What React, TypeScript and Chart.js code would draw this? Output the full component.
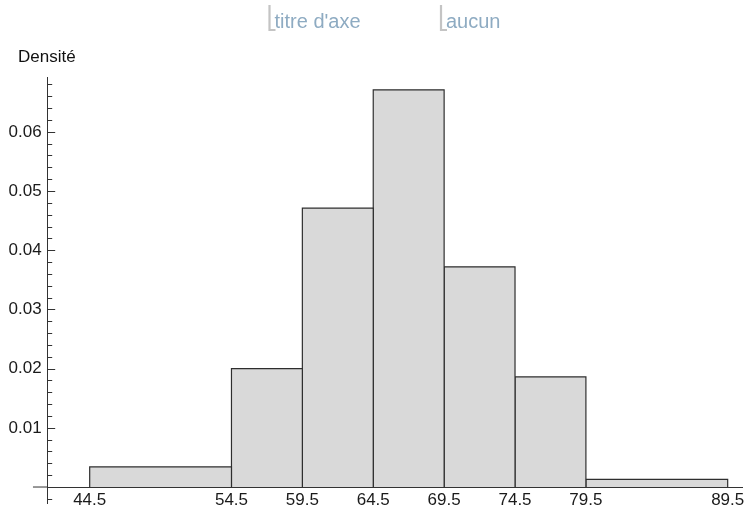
import React, { useEffect, useRef } from 'react';
import { Chart, registerables } from 'chart.js';

Chart.register(...registerables);

// ---- data ----
const binEdges = [44.5, 54.5, 59.5, 64.5, 69.5, 74.5, 79.5, 89.5];
const densities = [0.0034, 0.02, 0.0471, 0.0671, 0.0372, 0.0186, 0.0013];
const xTickValues = [44.5, 54.5, 59.5, 64.5, 69.5, 74.5, 79.5, 89.5];
const yAxisTitle = 'Densité';
const headerLabels = ["titre d'axe", 'aucun'];

// axis ranges
const xMin = 41.538;
const xMax = 90.51;
const xAxisStart = 40.5;
const yMin = -0.0027;
const yMax = 0.06926;
const yStep = 0.002;
const yMajorStep = 0.01;

const FONT = '"Liberation Sans", Arial, sans-serif';

const isMajor = (v: number) => {
  const r = v / yMajorStep;
  return Math.abs(r - Math.round(r)) < 1e-6;
};

const decorPlugin = {
  id: 'decor',
  afterDraw(chart: any) {
    const { ctx, scales, chartArea } = chart;
    const x = scales.x;
    const y = scales.y;
    ctx.save();
    ctx.strokeStyle = '#333';
    ctx.lineWidth = 1;
    // left stub of x axis (axis extends left of the y axis)
    const y0 = y.getPixelForValue(0);
    ctx.beginPath();
    ctx.moveTo(x.getPixelForValue(xAxisStart), y0);
    ctx.lineTo(chartArea.left, y0);
    ctx.stroke();
    // inward y ticks
    const ax = chartArea.left;
    y.ticks.forEach((t: any) => {
      const py = Math.round(y.getPixelForValue(t.value)) + 0.5;
      const len = isMajor(t.value) && t.value > 0 ? 7.5 : 4.5;
      ctx.beginPath();
      ctx.moveTo(ax, py);
      ctx.lineTo(ax + len, py);
      ctx.stroke();
    });
    // y axis title
    ctx.fillStyle = '#111';
    ctx.font = `17px ${FONT}`;
    ctx.textAlign = 'left';
    ctx.textBaseline = 'alphabetic';
    ctx.fillText(yAxisTitle, 18, 62);
    // header placeholder labels with brackets
    const pos = [269.5, 441];
    headerLabels.forEach((txt, i) => {
      const bx = pos[i];
      ctx.strokeStyle = '#c4c4c4';
      ctx.lineWidth = 2.2;
      ctx.beginPath();
      ctx.moveTo(bx, 5);
      ctx.lineTo(bx, 30);
      ctx.lineTo(bx + 6, 30);
      ctx.stroke();
      ctx.fillStyle = '#8eabc2';
      ctx.font = `20px ${FONT}`;
      ctx.fillText(txt, bx + 5, 28);
    });
    ctx.restore();
  },
};

export default function App() {
  const ref = useRef<HTMLCanvasElement | null>(null);
  useEffect(() => {
    if (!ref.current) return;
    const datasets = densities.map((d, i) => ({
      data: [
        { x: binEdges[i], y: 0 },
        { x: binEdges[i], y: d },
        { x: binEdges[i + 1], y: d },
        { x: binEdges[i + 1], y: 0 },
      ],
      showLine: true,
      fill: 'origin',
      backgroundColor: '#d9d9d9',
      borderColor: '#2e2e2e',
      borderWidth: 1.2,
      pointRadius: 0,
      pointHoverRadius: 0,
      tension: 0,
    }));
    const chart = new Chart(ref.current, {
      type: 'scatter',
      data: { datasets: datasets as any },
      options: {
        animation: false,
        responsive: true,
        maintainAspectRatio: false,
        layout: { padding: { left: 0, right: 3, top: 77, bottom: 4 } },
        plugins: { legend: { display: false }, tooltip: { enabled: false } },
        scales: {
          x: {
            type: 'linear',
            position: { y: 0 } as any,
            min: xMin,
            max: xMax,
            afterBuildTicks: (scale: any) => {
              scale.ticks = xTickValues.map((v) => ({ value: v }));
            },
            afterFit: (scale: any) => {
              scale.paddingLeft = 0;
              scale.paddingRight = 0;
              scale.paddingTop = 0;
              scale.paddingBottom = 0;
            },
            ticks: {
              autoSkip: false,
              maxRotation: 0,
              padding: 3,
              color: '#1a1a1a',
              font: { family: FONT, size: 17 },
              callback: (v: any) => Number(v).toFixed(1),
            },
            grid: { display: false, drawTicks: false },
            border: { display: true, color: '#333', width: 1 },
          },
          y: {
            type: 'linear',
            position: 'left',
            min: yMin,
            max: yMax,
            afterFit: (scale: any) => {
              scale.width = 47.7;
              scale.paddingTop = 0;
              scale.paddingBottom = 0;
              scale.paddingLeft = 0;
              scale.paddingRight = 0;
            },
            ticks: {
              stepSize: yStep,
              includeBounds: false,
              autoSkip: false,
              padding: 6,
              color: '#1a1a1a',
              font: { family: FONT, size: 17 },
              callback: (v: any) => {
                const n = Number(v);
                return isMajor(n) && n > 0 ? n.toFixed(2) : '';
              },
            },
            grid: { display: false, drawTicks: false },
            border: { display: true, color: '#333', width: 1 },
          },
        },
      },
      plugins: [decorPlugin],
    });
    return () => chart.destroy();
  }, []);
  return (
    <div style={{ position: 'fixed', left: 0, top: 0, width: 745, height: 507, background: '#fff' }}>
      <canvas ref={ref} />
    </div>
  );
}
